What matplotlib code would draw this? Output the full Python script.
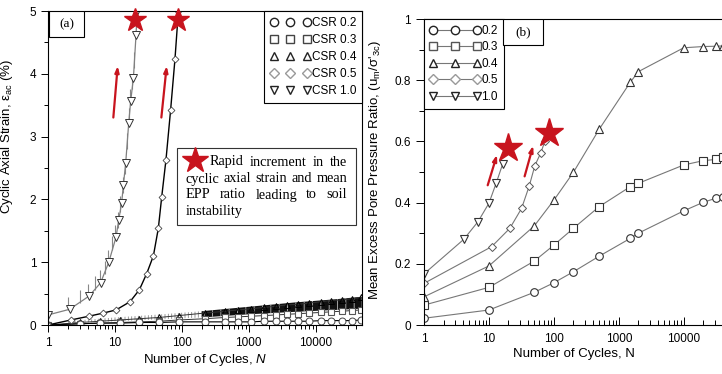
import matplotlib
matplotlib.use('Agg')
import matplotlib.pyplot as plt
from matplotlib.lines import Line2D
from matplotlib.patches import Rectangle
from matplotlib.ticker import FixedLocator, NullFormatter

plt.rcParams['font.family'] = ['Liberation Sans', 'DejaVu Sans']
plt.rcParams['mathtext.fontset'] = 'custom'
plt.rcParams['mathtext.rm'] = 'Liberation Sans'
plt.rcParams['mathtext.it'] = 'Liberation Sans:italic'
plt.rcParams['hatch.linewidth'] = 0.6

# ---------------- data, panel (a): cyclic axial strain (%) ----------------
n_low = [1, 3, 6, 12, 23, 46, 90, 220, 450, 700, 1100, 1700, 2600, 3700, 5500,
         8000, 12000, 17000, 25000, 35000, 48000]
strain_02 = [0.0, 0.02, 0.03, 0.03, 0.04, 0.04, 0.05, 0.05, 0.05, 0.05, 0.05,
             0.06, 0.06, 0.06, 0.06, 0.06, 0.07, 0.07, 0.07, 0.07, 0.08]
strain_03 = [0.0, 0.02, 0.03, 0.04, 0.05, 0.06, 0.08, 0.10, 0.12, 0.13, 0.14,
             0.15, 0.16, 0.17, 0.18, 0.19, 0.20, 0.21, 0.22, 0.23, 0.24]
strain_04 = [0.0, 0.04, 0.06, 0.08, 0.10, 0.12, 0.15, 0.19, 0.22, 0.24, 0.26,
             0.28, 0.30, 0.32, 0.33, 0.35, 0.37, 0.39, 0.40, 0.42, 0.44]

n_05 = [1, 2.2, 4.1, 6.7, 10.4, 16.8, 23.2, 29.9, 37.6, 44.6, 50.1, 58, 68, 79, 89]
strain_05 = [0.0, 0.08, 0.14, 0.19, 0.24, 0.37, 0.56, 0.82, 1.10, 1.54, 2.04,
             2.63, 3.42, 4.23, 5.0]

n_10 = [1, 2.1, 4.1, 6.1, 8.1, 10.4, 11.4, 12.6, 13.4, 14.5, 16.1, 17.2, 18.9, 20.7, 21.5]
strain_10 = [0.16, 0.25, 0.46, 0.67, 1.0, 1.40, 1.67, 1.94, 2.23, 2.58, 3.22,
             3.56, 3.93, 4.62, 5.0]

# cycle-by-cycle peaks of CSR 1.0 (spikes above the curve)
spike_n = [2, 3, 4, 5, 6, 7, 8, 9, 10, 11, 12, 13, 14, 15, 16, 17, 18, 19]
spike_lo = [0.24, 0.35, 0.45, 0.56, 0.66, 0.82, 0.98, 1.2, 1.35, 1.55, 1.8,
            2.1, 2.4, 2.8, 3.2, 3.5, 3.75, 4.1]
spike_hi = [0.45, 0.55, 0.65, 0.78, 0.88, 1.02, 1.2, 1.42, 1.6, 1.8, 2.05,
            2.35, 2.65, 3.05, 3.45, 3.75, 4.0, 4.35]

# cyclic band of CSR 0.3 / 0.4
band_n = [2, 10, 50, 200]
band_lo = [0.03, 0.06, 0.09, 0.12]
band_hi = [0.06, 0.12, 0.17, 0.22]
band2_n = [200, 1000, 5000, 20000, 49000]
band2_lo = [0.12, 0.17, 0.21, 0.24, 0.26]
band2_hi = [0.22, 0.29, 0.36, 0.41, 0.45]

stars_a_n = [20, 88]
stars_a_y = [4.85, 4.85]
arrows_a = [((9.4, 3.26), (11.1, 4.17)), ((49, 3.26), (60, 4.17))]

# ---------------- data, panel (b): mean EPP ratio ----------------
n_b = [1, 10, 50, 100, 200, 500, 1500, 2000, 10000, 20000, 31000, 40000]
epp_02 = [0.022, 0.049, 0.107, 0.138, 0.174, 0.225, 0.283, 0.300, 0.373, 0.401, 0.414, 0.419]
epp_03 = [0.065, 0.123, 0.209, 0.261, 0.316, 0.387, 0.452, 0.463, 0.523, 0.537, 0.541, 0.55]
epp_04 = [0.092, 0.193, 0.324, 0.408, 0.499, 0.640, 0.793, 0.828, 0.906, 0.910, 0.911, 0.912]
n_b05 = [1, 11, 21, 31.8, 41.7, 51, 63, 72.6]
epp_05 = [0.136, 0.256, 0.316, 0.381, 0.454, 0.521, 0.563, 0.60]
n_b10 = [1, 4.1, 6.8, 10, 13, 16.2]
epp_10 = [0.167, 0.28, 0.338, 0.398, 0.465, 0.525]

stars_b_n = [20, 84]
stars_b_y = [0.58, 0.627]
arrows_b = [((9.3, 0.448), (13.7, 0.565)), ((34.5, 0.477), (49.3, 0.595))]

xticks = [1, 10, 100, 1000, 10000]
xticklabels = ['1', '10', '100', '1000', '10000']
minor_x = [m * 10 ** d for d in range(5) for m in range(2, 10)]

red = '#c8141e'
serif = ['Liberation Serif', 'DejaVu Serif']

fig = plt.figure(figsize=(7.22, 3.74), dpi=100)
W, H = 722, 374
ax1 = fig.add_axes([48 / W, (H - 325) / H, 314 / W, 314 / H])
ax2 = fig.add_axes([424 / W, (H - 325) / H, 300 / W, 306 / H])

# ---------------- panel (a) ----------------
ax1.set_xscale('log')
ax1.fill_between(band_n, band_lo, band_hi, facecolor='none', edgecolor='#888888',
                 hatch='|||||', linewidth=0)
ax1.fill_between(band2_n, band2_lo, band2_hi, facecolor='#111111', edgecolor='#bbbbbb',
                 hatch='||', linewidth=0)
ax1.plot(n_low, strain_04, color='#333333', lw=0.7, marker='^', ms=5, mfc='none', mec='black', mew=0.7)
ax1.plot(n_low, strain_03, color='#333333', lw=0.7, marker='s', ms=5, mfc='white', mec='#555555', mew=0.8)
ax1.plot(n_low, strain_02, color='black', lw=0.8, marker='o', ms=5, mfc='white', mec='#444444', mew=0.7)
ax1.vlines(spike_n, spike_lo, spike_hi, color='#888888', lw=0.8)
ax1.plot(n_10, strain_10, color='#808080', lw=0.9, marker='v', ms=6, mfc='white', mec='#333333', mew=0.7)
ax1.plot(n_05, strain_05, color='black', lw=1.0, marker='D', ms=3.5, mfc='white', mec='#444444', mew=0.6)
ax1.plot(stars_a_n, stars_a_y, ls='none', marker='*', ms=17, color=red, clip_on=False, zorder=5)
for (x0, y0), (x1, y1) in arrows_a:
    ax1.annotate('', xy=(x1, y1), xytext=(x0, y0),
                 arrowprops=dict(arrowstyle='-|>,head_length=0.35,head_width=0.12', color=red, lw=1.6))

ax1.set_xlim(1, 49400)
ax1.set_ylim(0, 5)
ax1.xaxis.set_major_locator(FixedLocator(xticks))
ax1.set_xticklabels(xticklabels)
ax1.xaxis.set_minor_locator(FixedLocator(minor_x))
ax1.xaxis.set_minor_formatter(NullFormatter())
ax1.set_yticks([0, 1, 2, 3, 4, 5])
ax1.set_yticks([0.5, 1.5, 2.5, 3.5, 4.5], minor=True)
ax1.tick_params(which='both', direction='out', labelsize=8.5, width=0.7)
ax1.tick_params(which='major', length=5)
ax1.tick_params(which='minor', length=3)
ax1.set_xlabel('Number of Cycles, $\\mathit{N}$', fontsize=9.5, labelpad=2)
ax1.set_ylabel('Cyclic Axial Strain, ε$_{\\mathrm{ac}}$ (%)', fontsize=9.5)
ax1.yaxis.set_label_coords(-0.105, 0.60)

leg_a = [Line2D([], [], ls='none', marker='o', ms=6, mfc='none', mec='#222222', label='CSR 0.2'),
         Line2D([], [], ls='none', marker='s', ms=6, mfc='none', mec='#444444', label='CSR 0.3'),
         Line2D([], [], ls='none', marker='^', ms=6, mfc='none', mec='#222222', label='CSR 0.4'),
         Line2D([], [], ls='none', marker='D', ms=5, mfc='none', mec='#999999', label='CSR 0.5'),
         Line2D([], [], ls='none', marker='v', ms=6, mfc='none', mec='#222222', label='CSR 1.0')]
la = ax1.legend(handles=leg_a, loc='upper right', numpoints=3, handlelength=3.4, handletextpad=0.1,
                fontsize=8.5, borderaxespad=0, fancybox=False, edgecolor='black', framealpha=1,
                labelspacing=0.42, borderpad=0.5)
la.get_frame().set_linewidth(0.8)

ax1.add_patch(Rectangle((0.003, 0.917), 0.112, 0.083, transform=ax1.transAxes, fill=True,
                        facecolor='white', edgecolor='black', lw=0.8, zorder=6))
ax1.text(0.059, 0.958, '(a)', transform=ax1.transAxes, ha='center', va='center',
         fontsize=9.5, family=serif, zorder=7)

# note box
ax1.add_patch(Rectangle((0.411, 0.318), 0.57, 0.246, transform=ax1.transAxes,
                        facecolor='white', edgecolor='#333333', lw=0.8, zorder=6))
ax1.plot([0.469], [0.526], transform=ax1.transAxes, marker='*', ms=19, color=red, zorder=7)

note_lines = [('Rapid increment in the', 210, 347, 162),
              ('cyclic axial strain and mean', 186, 347, 179),
              ('EPP ratio leading to soil', 186, 347, 195),
              ('instability', 186, None, 212)]
renderer = fig.canvas.get_renderer()
for line, px0, px1, py in note_lines:
    words = line.split()
    ty = (325 - py) / 314
    txts = [ax1.text(0, ty, w, transform=ax1.transAxes, fontsize=10.3, family=serif,
                     va='center', ha='left', zorder=7) for w in words]
    widths = [t.get_window_extent(renderer).width for t in txts]
    if px1 is None or len(words) == 1:
        gap = 4
    else:
        gap = (px1 - px0 - sum(widths)) / (len(words) - 1)
    xpos = px0
    for t, w in zip(txts, widths):
        t.set_x((xpos - 48) / 314)
        xpos += w + gap

# ---------------- panel (b) ----------------
ax2.set_xscale('log')
line_c = '#777777'
ax2.plot(n_b, epp_02, color=line_c, lw=0.8, marker='o', ms=5.5, mfc='white', mec='#333333', mew=0.8)
ax2.plot(n_b, epp_03, color=line_c, lw=0.8, marker='s', ms=5.5, mfc='white', mec='#333333', mew=0.8)
ax2.plot(n_b, epp_04, color=line_c, lw=0.8, marker='^', ms=5.5, mfc='white', mec='#333333', mew=0.8)
ax2.plot(n_b05, epp_05, color=line_c, lw=0.8, marker='D', ms=4, mfc='white', mec='#555555', mew=0.7)
ax2.plot(n_b10, epp_10, color=line_c, lw=0.8, marker='v', ms=5.5, mfc='white', mec='#333333', mew=0.8)
ax2.plot(stars_b_n, stars_b_y, ls='none', marker='*', ms=21, color=red, zorder=5)
for (x0, y0), (x1, y1) in arrows_b:
    ax2.annotate('', xy=(x1, y1), xytext=(x0, y0),
                 arrowprops=dict(arrowstyle='-|>,head_length=0.35,head_width=0.12', color=red, lw=1.6))

ax2.set_xlim(1, 10 ** 4.62)
ax2.set_ylim(0, 1)
ax2.spines['right'].set_visible(False)
ax2.xaxis.set_major_locator(FixedLocator(xticks))
ax2.set_xticklabels(xticklabels)
ax2.xaxis.set_minor_locator(FixedLocator(minor_x))
ax2.xaxis.set_minor_formatter(NullFormatter())
ax2.set_yticks([0, 0.2, 0.4, 0.6, 0.8, 1.0])
ax2.set_yticklabels(['0', '0.2', '0.4', '0.6', '0.8', '1'])
ax2.set_yticks([0.1, 0.3, 0.5, 0.7, 0.9], minor=True)
ax2.tick_params(axis='x', which='both', direction='in', labelsize=8.5, width=0.7, pad=6)
ax2.tick_params(axis='y', which='both', direction='out', labelsize=8.5, width=0.7)
ax2.tick_params(which='major', length=6)
ax2.tick_params(which='minor', length=3.5)
ax2.set_xlabel('Number of Cycles, N', fontsize=9.5, labelpad=2)
ax2.set_ylabel("Mean Excess Pore Pressure Ratio, (u$_{\\mathrm{m}}$/σ'$_{\\mathrm{3c}}$)", fontsize=9.5)
ax2.yaxis.set_label_coords(-0.137, 0.507)

leg_b = [Line2D([], [], color=line_c, lw=0.8, marker='o', ms=6, mfc='white', mec='#222222', label='0.2'),
         Line2D([], [], color=line_c, lw=0.8, marker='s', ms=6, mfc='white', mec='#555555', label='0.3'),
         Line2D([], [], color=line_c, lw=0.8, marker='^', ms=6, mfc='white', mec='#222222', label='0.4'),
         Line2D([], [], color=line_c, lw=0.8, marker='D', ms=5, mfc='white', mec='#999999', label='0.5'),
         Line2D([], [], color=line_c, lw=0.8, marker='v', ms=6, mfc='white', mec='#222222', label='1.0')]
lb = ax2.legend(handles=leg_b, loc='upper left', numpoints=3, handlelength=4.3, handletextpad=0.05,
                fontsize=8.5, borderaxespad=0, fancybox=False, edgecolor='black', framealpha=1,
                labelspacing=0.38, borderpad=0.5)
lb.get_frame().set_linewidth(0.8)

ax2.add_patch(Rectangle((0.263, 0.915), 0.134, 0.085, transform=ax2.transAxes,
                        facecolor='white', edgecolor='black', lw=0.8, zorder=6))
ax2.text(0.33, 0.957, '(b)', transform=ax2.transAxes, ha='center', va='center',
         fontsize=9.5, family=serif, zorder=7)

fig.savefig('out.png', dpi=100)
